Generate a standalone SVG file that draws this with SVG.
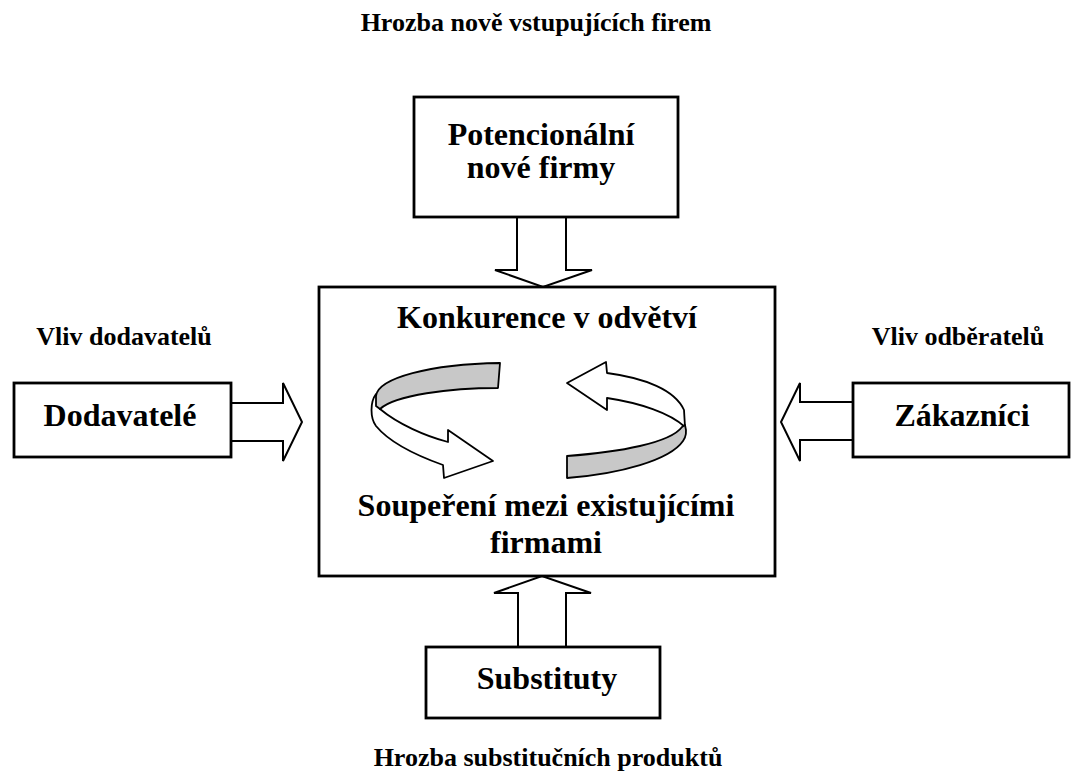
<svg xmlns="http://www.w3.org/2000/svg" width="1072" height="780" viewBox="0 0 1072 780">
<style>
text{font-family:"Liberation Serif","Times New Roman",serif;font-weight:bold;fill:#000;text-anchor:middle}
.big{font-size:32px}
.small{font-size:26px}
.box{fill:#fff;stroke:#000;stroke-width:2.8}
.blk{fill:#fff;stroke:#000;stroke-width:2;stroke-linejoin:miter}
.rib{fill:#fff;stroke:#000;stroke-width:1.8;stroke-linejoin:round}
.gray{fill:#c8c8c8;stroke:#000;stroke-width:1.8;stroke-linejoin:round}
</style>
<rect width="1072" height="780" fill="#fff"/>
<text class="small" x="536" y="31">Hrozba nově vstupujících firem</text>
<text class="small" x="124" y="345">Vliv dodavatelů</text>
<text class="small" x="958" y="345">Vliv odběratelů</text>
<text class="small" x="548" y="766">Hrozba substitučních produktů</text>

<g id="connectors">
<polygon class="blk" points="517,216 566,216 566,270 592,270 543,287 495,270 517,270"/>
<polygon class="blk" points="231,403 283,403 283,383 302,422 283,461 283,441 231,441"/>
<polygon class="blk" points="853,402 800,402 800,383 781,422 800,461 800,440 853,440"/>
<polygon class="blk" points="518,647 518,593 494,593 542,576 591,593 566,593 566,647"/>
</g>

<g id="node-top">
<rect class="box" x="414" y="97" width="264" height="120"/>
<text class="big" x="541" y="145">Potencionální</text>
<text class="big" x="541" y="178">nové firmy</text>
</g>

<g id="node-center">
<rect class="box" x="319" y="287" width="456" height="289"/>
<text class="big" x="547" y="328">Konkurence v odvětví</text>
<g id="cycle">
<path class="rib" d="M376,394 C370,402 370,418 376,426 C390,443 415,455 443,465 L444,478 L493,461 L448,430 L448,442 C425,436 398,424 380,409 Z"/>
<path class="gray" d="M376,396 C378,378 430,364 500,363 L498,388 C450,388 395,395 380,409 L376,406 Z"/>
<path class="rib" d="M567,383 L606,362 L607,373 C645,378 675,390 684,410 L685,427 C670,413 640,403 607,398 L607,410 Z"/>
<path class="gray" d="M682,427 L685,425 C687,432 686,437 683,441 C670,460 620,474 567,478 L567,456 C620,452 670,443 682,427 Z"/>
</g>
<text class="big" x="546" y="516">Soupeření mezi existujícími</text>
<text class="big" x="546" y="553">firmami</text>
</g>

<g id="node-left">
<rect class="box" x="14" y="383" width="217" height="74"/>
<text class="big" x="120" y="426">Dodavatelé</text>
</g>

<g id="node-right">
<rect class="box" x="853" y="383" width="216" height="74"/>
<text class="big" x="962" y="426">Zákazníci</text>
</g>

<g id="node-bottom">
<rect class="box" x="426" y="647" width="234" height="71"/>
<text class="big" x="547" y="689">Substituty</text>
</g>
</svg>
